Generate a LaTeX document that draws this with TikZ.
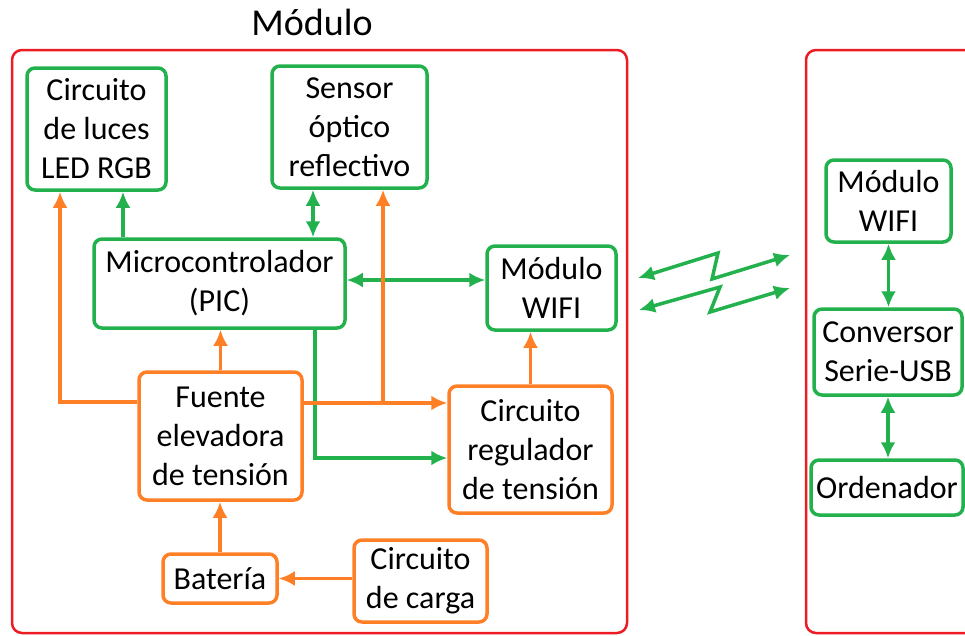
\documentclass[tikz,border=0pt]{standalone}
\usepackage{fontspec}
\setmainfont{Carlito}
\usetikzlibrary{arrows.meta}

\definecolor{verde}{RGB}{34,177,76}
\definecolor{naranja}{RGB}{255,127,39}
\definecolor{rojo}{RGB}{237,28,36}

\begin{document}
\begin{tikzpicture}[x=1pt, y=-1pt,
  caja/.style={draw, line width=3.5pt, rounded corners=8pt, align=center, inner sep=0pt,
    text=black, font=\fontsize{32pt}{39pt}\selectfont},
  cajav/.style={caja, draw=verde},
  cajan/.style={caja, draw=naranja},
  flechav/.style={verde, line width=3.5pt, -{Latex[length=16pt, width=15pt]}},
  dflechav/.style={verde, line width=3.5pt, {Latex[length=16pt, width=15pt]}-{Latex[length=16pt, width=15pt]}},
  flechan/.style={naranja, line width=3.5pt, -{Latex[length=16pt, width=15pt]}}]
  \useasboundingbox (0,0) rectangle (965,635);

  % Marcos
  \draw[rojo, line width=2.5pt, rounded corners=10pt] (12,50) rectangle (627,633);
  \draw[rojo, line width=2.5pt, rounded corners=10pt] (806,50) rectangle (990,633);
  \node[font=\fontsize{38pt}{40pt}\selectfont] (titulo) at (312,22) {Módulo};

  % Bloques verdes
  \node[cajav, minimum width=139pt, minimum height=122pt] (led) at (96.5,129) {Circuito\\de luces\\LED RGB};
  \node[cajav, minimum width=155pt, minimum height=122pt] (sensor) at (349.5,127) {Sensor\\óptico\\reflectivo};
  \node[cajav, minimum width=251pt, minimum height=89pt] (micro) at (219.5,283.5) {Microcontrolador\\(PIC)};
  \node[cajav, minimum width=129pt, minimum height=84pt] (wifi) at (551.5,288) {Módulo\\WIFI};

  % Bloques naranjas
  \node[cajan, minimum width=163pt, minimum height=128pt] (fuente) at (220.5,436) {Fuente\\elevadora\\de tensión};
  \node[cajan, minimum width=163pt, minimum height=127pt] (regulador) at (530.5,449.5) {Circuito\\regulador\\de tensión};
  \node[cajan, minimum width=114pt, minimum height=49pt] (bateria) at (220,578.5) {Batería};
  \node[cajan, minimum width=133pt, minimum height=82pt] (carga) at (420.5,581) {Circuito\\de carga};

  % Ordenador
  \node[cajav, minimum width=125pt, minimum height=82pt] (wifipc) at (888.5,201) {Módulo\\WIFI};
  \node[cajav, minimum width=148pt, minimum height=86pt] (conversor) at (888,352) {Conversor\\Serie-USB};
  \node[cajav, minimum width=152pt, minimum height=55pt] (ordenador) at (887,487.5) {Ordenador};

  % Conexiones de datos
  \draw[flechav] (micro.north -| 123,0) -- (led.south -| 123,0);
  \draw[dflechav] (micro.north -| 313,0) -- (sensor.south -| 313,0);
  \draw[dflechav] (micro.east |- 0,280) -- (wifi.west |- 0,280);
  \draw[flechav] (micro.south -| 315,0) |- (regulador.west |- 0,458);
  \draw[dflechav] (wifipc.south) -- (conversor.north -| wifipc.south);
  \draw[dflechav] (conversor.south) -- (ordenador.north -| conversor.south);

  % Alimentacion
  \draw[flechan] (fuente.west |- 0,402) -| (led.south -| 60,0);
  \draw[flechan] (fuente.north) -- (micro.south -| fuente.north);
  \draw[flechan] (fuente.east |- 0,403) -- (regulador.west |- 0,403);
  \coordinate (ramal) at (383,403);
  \draw[flechan] (ramal) -- (sensor.south -| ramal);
  \draw[flechan] (regulador.north) -- (wifi.south -| regulador.north);
  \draw[flechan] (bateria.north) -- (fuente.south -| bateria.north);
  \draw[flechan] (carga.west |- bateria) -- (bateria.east);

  % Enlace inalambrico
  \draw[dflechav, line join=miter] (638,278) -- (718,253) -- (712,279) -- (790,255);
  \draw[dflechav, line join=miter] (639,310) -- (720,287) -- (710,312) -- (790,288);
\end{tikzpicture}
\end{document}
